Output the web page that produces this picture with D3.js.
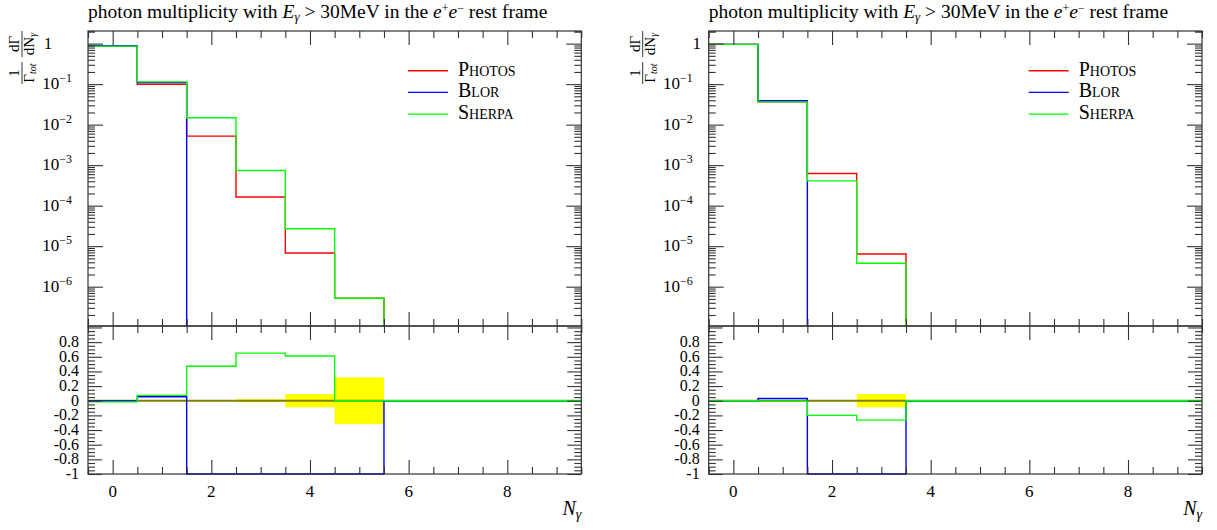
<!DOCTYPE html>
<html>
<head>
<meta charset="utf-8">
<script src="https://cdn.jsdelivr.net/npm/d3@7"></script>
<style>
  body { margin: 0; background: #fff; }
  svg { font-family: "Liberation Serif", "DejaVu Serif", serif; }
</style>
</head>
<body>
<svg id="chart" width="1217" height="530"></svg>
<script>
// bin edges of the photon multiplicity histogram
const binEdges = [-0.5, 0.5, 1.5, 2.5, 3.5, 4.5, 5.5, 6.5, 7.5, 8.5, 9.5];
const seriesNames = ["Photos", "Blor", "Sherpa"];
const seriesColors = ["#ff0000", "#0000ff", "#00ff00"];

// left plot: normalised distributions
const photosLeft = [0.895, 0.099, 0.0052, 1.64e-4, 6.8e-6, 5.2e-7, 0, 0, 0, 0];
const blorLeft   = [0.89, 0.11, 0, 0, 0, 0, 0, 0, 0, 0];
const sherpaLeft = [0.87, 0.114, 0.0148, 7.4e-4, 2.7e-5, 5.2e-7, 0, 0, 0, 0];
// left plot: (MC - ref)/(MC + ref) and reference uncertainty
const blorRatioLeft   = [-0.003, 0.055, -1, -1, -1, -1, 0, 0, 0, 0];
const sherpaRatioLeft = [-0.015, 0.073, 0.47, 0.65, 0.61, 0, 0, 0, 0, 0];
const bandLeft        = [0.003, 0.003, 0.005, 0.02, 0.09, 0.32, 0, 0, 0, 0];

// right plot
const photosRight = [0.96, 0.0365, 6.2e-4, 6.4e-6, 0, 0, 0, 0, 0, 0];
const blorRight   = [0.96, 0.0388, 0, 0, 0, 0, 0, 0, 0, 0];
const sherpaRight = [0.96, 0.0365, 4.1e-4, 3.8e-6, 0, 0, 0, 0, 0, 0];
const blorRatioRight   = [0, 0.03, -1, -1, 0, 0, 0, 0, 0, 0];
const sherpaRatioRight = [0, -0.005, -0.2, -0.265, 0, 0, 0, 0, 0, 0];
const bandRight        = [0.002, 0.003, 0.01, 0.09, 0, 0, 0, 0, 0, 0];

// tick labels
const logExponents = [0, -1, -2, -3, -4, -5, -6];
const ratioTickLabels = ["0.8", "0.6", "0.4", "0.2", "0", "-0.2", "-0.4", "-0.6", "-0.8", "-1"];
const xTickLabels = [0, 2, 4, 6, 8];

const svg = d3.select("#chart");
const ink = "#333";

drawPanel({ id: "L", x0: 88, oneX: 48 },
  [photosLeft, blorLeft, sherpaLeft], [blorRatioLeft, sherpaRatioLeft], bandLeft);
drawPanel({ id: "R", x0: 708.7, oneX: 708.7 - 12 },
  [photosRight, blorRight, sherpaRight], [blorRatioRight, sherpaRatioRight], bandRight);

function drawPanel(cfg, mains, ratios, band) {
  const x0 = cfg.x0, x1 = x0 + 493.3;
  const top = 31, mid = 326, bot = 474;

  const x = d3.scaleLinear().domain([-0.5, 9.5]).range([x0, x1]);
  const y = d3.scaleLog().domain([1.07e-7, 2.05]).range([mid, top]);
  const yr = d3.scaleLinear().domain([-1, 1.02]).range([bot, mid]);

  const g = svg.append("g");

  // clip regions
  const defs = svg.append("defs");
  defs.append("clipPath").attr("id", "clipMain" + cfg.id)
    .append("rect").attr("x", x0).attr("y", top).attr("width", x1 - x0).attr("height", mid - top);
  defs.append("clipPath").attr("id", "clipRatio" + cfg.id)
    .append("rect").attr("x", x0).attr("y", mid).attr("width", x1 - x0).attr("height", bot - mid + 1);

  const stepPts = vals => binEdges.map((e, i) => ({ x: e, v: i < vals.length ? vals[i] : vals[vals.length - 1] }));

  // main histograms
  const mainLine = d3.line()
    .x(d => x(d.x))
    .y(d => d.v > 0 ? y(d.v) : mid + 10)
    .curve(d3.curveStepAfter);

  const mainG = g.append("g").attr("clip-path", `url(#clipMain${cfg.id})`);
  mains.forEach((vals, k) => {
    mainG.append("path")
      .attr("d", mainLine(stepPts(vals)))
      .attr("fill", "none")
      .attr("stroke", seriesColors[k])
      .attr("stroke-width", 1.4);
  });

  // ratio panel
  const ratioG = g.append("g").attr("clip-path", `url(#clipRatio${cfg.id})`);
  band.forEach((b, i) => {
    if (b <= 0) return;
    ratioG.append("rect")
      .attr("x", x(binEdges[i])).attr("width", x(binEdges[i + 1]) - x(binEdges[i]))
      .attr("y", yr(b)).attr("height", yr(-b) - yr(b))
      .attr("fill", "#ffff00");
  });

  // zero line beyond the reference, then the reference line itself
  const refVals = mains[0];
  let lastBin = 0;
  refVals.forEach((v, i) => { if (v > 0) lastBin = i; });
  ratioG.append("line")
    .attr("x1", x(binEdges[lastBin + 1])).attr("x2", x1)
    .attr("y1", yr(0)).attr("y2", yr(0))
    .attr("stroke", "#1cc43c").attr("stroke-width", 2);
  ratioG.append("line")
    .attr("x1", x0).attr("x2", x(binEdges[lastBin + 1]))
    .attr("y1", yr(0)).attr("y2", yr(0))
    .attr("stroke", "#808000").attr("stroke-width", 2);

  const ratioLine = d3.line()
    .x(d => x(d.x))
    .y(d => yr(d.v))
    .curve(d3.curveStepAfter);
  ratios.forEach((vals, k) => {
    ratioG.append("path")
      .attr("d", ratioLine(stepPts(vals)))
      .attr("fill", "none")
      .attr("stroke", seriesColors[k + 1])
      .attr("stroke-width", 1.4);
  });

  // frames
  [[top, mid], [mid, bot]].forEach(([a, b]) => {
    g.append("rect").attr("x", x0).attr("y", a).attr("width", x1 - x0).attr("height", b - a)
      .attr("fill", "none").attr("stroke", ink).attr("stroke-width", 1.2);
  });

  // inward ticks through d3 axes
  const addTicks = (axisFn, scale, vals, len, tx, ty) => {
    const a = g.append("g").attr("transform", `translate(${tx},${ty})`)
      .call(axisFn(scale).tickValues(vals).tickSize(-len).tickFormat(""));
    a.select(".domain").remove();
    a.selectAll("line").attr("stroke", ink).attr("stroke-width", 1.1);
    return a;
  };

  // x ticks
  const xMajor = xTickLabels;
  const xMinor = d3.range(-0.5, 9.51, 0.5).filter(v => !xMajor.includes(v));
  const xTickSet = (py, down) => {
    const axisFn = down ? d3.axisTop : d3.axisBottom;
    addTicks(axisFn, x, xMajor, 14, 0, py);
    addTicks(axisFn, x, xMinor, 7, 0, py);
  };
  xTickSet(top, true);
  xTickSet(mid, false);
  xTickSet(mid, true);
  xTickSet(bot, false);

  // log y ticks
  const logMajor = [], logMinor = [];
  for (let e = -7; e <= 0; e++) {
    for (let m = 1; m <= 9; m++) {
      const v = m * Math.pow(10, e);
      if (v < y.domain()[0] || v > y.domain()[1]) continue;
      (m === 1 ? logMajor : logMinor).push(v);
    }
  }
  logMinor.push(2);
  addTicks(d3.axisLeft, y, logMajor, 15, x0, 0);
  addTicks(d3.axisLeft, y, logMinor, 7, x0, 0);
  addTicks(d3.axisRight, y, logMajor, 15, x1, 0);
  addTicks(d3.axisRight, y, logMinor, 7, x1, 0);

  // ratio y ticks
  const rMajor = d3.range(-1, 1.001, 0.2).map(v => +v.toFixed(2));
  const rMinor = d3.range(-1, 1.001, 0.05).map(v => +v.toFixed(2)).filter(v => !rMajor.includes(v));
  addTicks(d3.axisLeft, yr, rMajor, 14, x0, 0);
  addTicks(d3.axisLeft, yr, rMinor, 7, x0, 0);
  addTicks(d3.axisRight, yr, rMajor, 14, x1, 0);
  addTicks(d3.axisRight, yr, rMinor, 7, x1, 0);

  // log labels
  logExponents.forEach(e => {
    const py = y(Math.pow(10, e)) + 5;
    if (e === 0) {
      g.append("text").attr("x", cfg.oneX).attr("y", py).attr("text-anchor", "middle")
        .style("font-size", "17px").text("1");
      return;
    }
    const t = g.append("text").attr("x", x0 - 16).attr("y", py).attr("text-anchor", "end")
      .style("font-size", "17px");
    t.append("tspan").text("10");
    t.append("tspan").attr("dy", -7).style("font-size", "12px").text("\u2212" + (-e));
  });

  // ratio labels
  ratioTickLabels.forEach(s => {
    g.append("text").attr("x", x0 - 9).attr("y", yr(+s) + 5).attr("text-anchor", "end")
      .style("font-size", "16px").text(s);
  });

  // x labels
  xTickLabels.forEach(v => {
    g.append("text").attr("x", x(v)).attr("y", 497).attr("text-anchor", "middle")
      .style("font-size", "17px").text(v);
  });

  // x axis title
  const xt = g.append("text").attr("x", x1).attr("y", 515).attr("text-anchor", "end")
    .style("font-size", "20px");
  xt.append("tspan").style("font-style", "italic").text("N");
  xt.append("tspan").attr("dy", 4).style("font-size", "14px").style("font-style", "italic").text("\u03b3");

  // plot title
  const title = g.append("text").attr("x", x0).attr("y", 18).style("font-size", "19.5px");
  title.append("tspan").text("photon multiplicity with ");
  title.append("tspan").style("font-style", "italic").text("E");
  title.append("tspan").attr("dy", 3).style("font-size", "13px").style("font-style", "italic").text("\u03b3");
  title.append("tspan").attr("dy", -3).text(" > 30MeV in the ");
  title.append("tspan").style("font-style", "italic").text("e");
  title.append("tspan").attr("dy", -6).style("font-size", "12px").text("+");
  title.append("tspan").attr("dy", 6).style("font-style", "italic").text("e");
  title.append("tspan").attr("dy", -6).style("font-size", "12px").text("\u2212");
  title.append("tspan").attr("dy", 6).text(" rest frame");

  // y axis title: 1/Γtot dΓ/dNγ, rotated
  const yl = g.append("g").attr("transform", `translate(${x0 - 66},84) rotate(-90)`)
    .style("font-size", "15px");
  yl.append("line").attr("x1", 0).attr("x2", 22).attr("y1", 0).attr("y2", 0).attr("stroke", "#000").attr("stroke-width", 0.8);
  yl.append("text").attr("x", 11).attr("y", -3).attr("text-anchor", "middle").text("1");
  const den1 = yl.append("text").attr("x", 11).attr("y", 12).attr("text-anchor", "middle");
  den1.append("tspan").text("\u0393");
  den1.append("tspan").attr("dy", 2).style("font-size", "10px").style("font-style", "italic").text("tot");
  yl.append("line").attr("x1", 27).attr("x2", 53).attr("y1", 0).attr("y2", 0).attr("stroke", "#000").attr("stroke-width", 0.8);
  yl.append("text").attr("x", 40).attr("y", -3).attr("text-anchor", "middle").text("d\u0393");
  const den2 = yl.append("text").attr("x", 40).attr("y", 12).attr("text-anchor", "middle");
  den2.append("tspan").text("dN");
  den2.append("tspan").attr("dy", 2).style("font-size", "10px").style("font-style", "italic").text("\u03b3");

  // legend
  seriesNames.forEach((name, k) => {
    const ly = 70.7 + k * 21.7;
    g.append("line").attr("x1", x0 + 320).attr("x2", x0 + 360).attr("y1", ly).attr("y2", ly)
      .attr("stroke", seriesColors[k]).attr("stroke-width", 1.4);
    g.append("text").attr("x", x0 + 370).attr("y", ly + 5)
      .style("font-size", "20px").style("font-variant", "small-caps").text(name);
  });
}
</script>
</body>
</html>
